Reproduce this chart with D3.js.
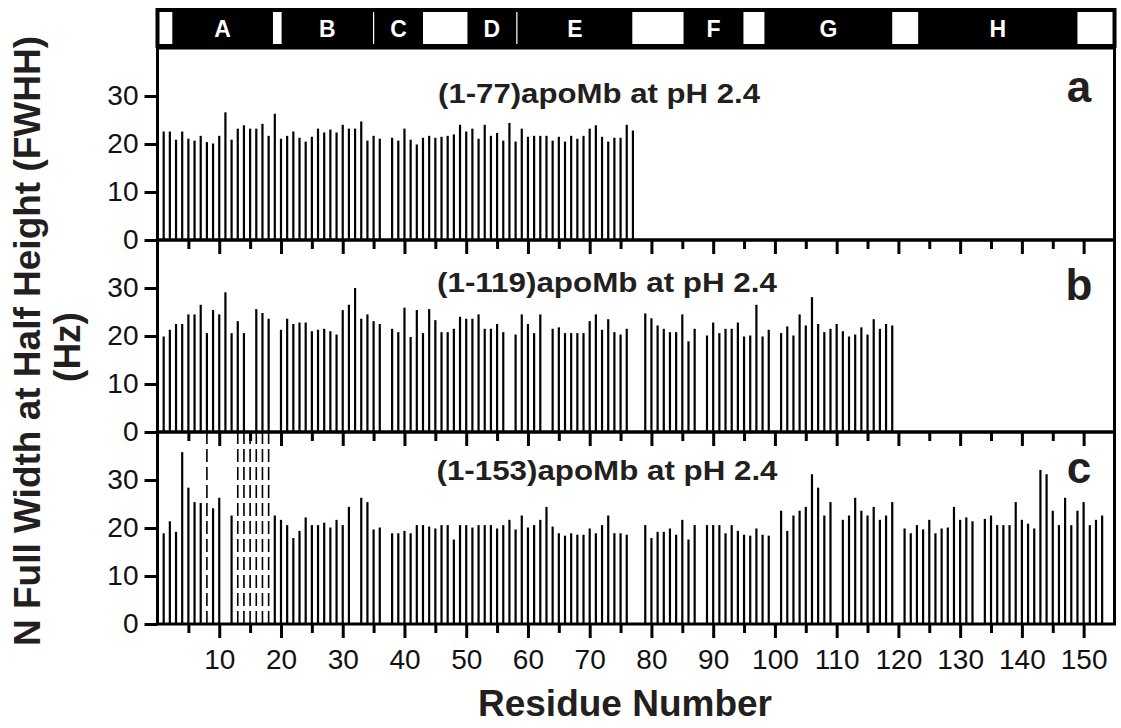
<!DOCTYPE html>
<html>
<head>
<meta charset="utf-8">
<title>apoMb FWHH</title>
<script src="https://d3js.org/d3.v7.min.js"></script>
<style>
body { margin: 0; background: #fff; font-family: "Liberation Sans", Arial, sans-serif; }
.tick line { stroke: #000; stroke-width: 3; }
.tick text { font-family: "Liberation Sans", Arial, sans-serif; fill: #111; }
</style>
</head>
<body>
<script>
// 15N linewidths (Hz), index = residue - 1, null = no peak
var fwhhA = [
  22.6, 22.6, 20.9, 22.6, 21.1, 20.7, 21.7, 20.4, 20.1, 21.7,
  26.6, 20.9, 23.2, 23.9, 23.2, 23.2, 24.2, 21.7, 26.3, 21.1,
  21.7, 22.6, 21.3, 20.5, 21.5, 23.2, 22.4, 23.0, 22.4, 24.0,
  23.2, 23.2, 24.7, 20.7, 21.7, 21.1, null, 21.3, 20.7, 23.2,
  20.9, 19.9, 21.3, 21.7, 21.3, 21.5, 21.7, 22.0, 24.0, 22.6,
  23.2, 21.1, 24.0, 21.7, 22.3, 20.7, 24.4, 20.5, 23.2, 21.5,
  21.7, 21.7, 21.7, 20.7, 21.5, 20.5, 21.7, 21.1, 21.7, 23.2,
  23.9, 21.5, 20.5, 21.3, 21.3, 24.0, 22.8
];
var fwhhB = [
  19.9, 21.3, 22.5, 22.5, 24.5, 24.5, 26.5, 20.6, 25.4, 24.5,
  29.1, 20.6, 23.1, 20.6, null, 25.6, 24.8, 23.6, null, 21.3,
  23.6, 22.5, 22.8, 22.8, 21.0, 21.3, 21.5, 21.0, 20.3, 25.4,
  26.5, 30.0, 23.6, 24.5, 23.1, 22.5, null, 21.5, 20.8, 25.9,
  19.8, 25.4, 20.6, 25.6, 23.3, 20.8, 20.8, 21.5, 24.0, 23.6,
  23.6, 24.5, 21.5, 21.5, 22.5, 20.8, null, 20.3, 24.5, 22.5,
  20.6, 24.5, null, 21.5, 21.8, 20.6, 20.6, 20.6, 20.6, 23.1,
  24.5, 21.3, 23.5, 20.8, 20.3, 21.5, null, null, 24.7, 23.7,
  22.2, 21.5, 20.8, 20.8, 24.5, 18.9, 21.5, null, 20.1, 22.8,
  20.6, 21.5, 21.5, 22.8, 19.9, 20.1, 26.5, 19.9, 21.3, null,
  20.6, 22.0, 20.1, 24.5, 22.2, 28.1, 22.5, 20.8, 21.5, 22.5,
  21.0, 19.9, 20.3, 21.8, 20.3, 23.5, 21.5, 22.5, 22.2
];
var fwhhC = [
  18.9, 21.4, 19.2, 35.8, 28.4, 25.4, 25.2, null, 24.1, 26.3,
  null, 22.6, null, null, null, null, null, null, 22.6, 21.7,
  20.6, 17.9, 19.4, 22.2, 20.6, 20.6, 21.1, 20.1, 21.7, 20.6,
  24.4, null, 26.3, 25.4, 19.7, 20.1, null, 18.9, 18.9, 19.4,
  18.9, 20.6, 20.6, 20.3, 19.9, 20.6, 20.6, 17.6, 20.6, 20.6,
  20.1, 20.6, 20.6, 20.6, 19.9, 20.6, 21.7, 19.7, 22.6, 20.1,
  20.6, 21.7, 24.4, 20.3, 18.9, 18.4, 18.9, 18.6, 18.6, 19.9,
  18.9, 20.6, 22.6, 18.9, 18.9, 18.6, null, null, 20.6, 17.9,
  19.2, 19.2, 19.9, 18.6, 21.7, 17.6, 20.6, null, 20.6, 20.6,
  20.6, 18.9, 20.6, 19.4, 18.6, 18.4, 19.9, 18.6, 18.4, null,
  23.6, 19.4, 22.6, 23.6, 24.4, 31.2, 28.4, 22.6, 25.4, null,
  21.7, 22.6, 26.3, 23.6, 22.6, 24.4, 21.7, 22.6, 25.4, null,
  19.9, 18.9, 20.6, 19.7, 21.7, 18.9, 19.9, 20.1, 24.4, 21.7,
  22.2, 21.4, null, 21.9, 22.6, 20.6, 20.6, 20.6, 25.4, 21.7,
  20.9, 19.9, 32.1, 31.2, 23.6, 20.6, 26.3, 20.6, 23.6, 25.4,
  20.6, 21.7, 22.6
];
// residues shown as dashed lines in panel c
var dashedC = [8, 13, 14, 15, 16, 17, 18];

var panelTitles = ["(1-77)apoMb at pH 2.4", "(1-119)apoMb at pH 2.4", "(1-153)apoMb at pH 2.4"];
var panelLetters = ["a", "b", "c"];

// helix segments (residue numbers)
var helixNames = ["A", "B", "C", "D", "E", "F", "G", "H"];
var helixStart = [2.4, 20.1, 35.1, 50.2, 58.3, 85.2, 98.3, 123.2];
var helixEnd   = [18.7, 34.9, 43.0, 58.1, 76.9, 94.9, 119.0, 149.0];

var yTicks = [0, 10, 20, 30];
var xMajor = [10, 20, 30, 40, 50, 60, 70, 80, 90, 100, 110, 120, 130, 140, 150];
var xMinor = [5, 15, 25, 35, 45, 55, 65, 75, 85, 95, 105, 115, 125, 135, 145];

var width = 1121, height = 728;
var left = 157.5, right = 1114.5;
var panelTop = [48, 240, 432];
var panelH = 192;
var titleY = [103, 292, 480];
var letterY = [102, 300, 483];
var titleW = [322, 340, 341];

var svg = d3.select("body").append("svg")
  .attr("width", width)
  .attr("height", height);

var x = d3.scaleLinear().domain([0, 155]).range([left, right]);

// helix bar on top
var hb = svg.append("g");
hb.append("rect")
  .attr("x", left).attr("y", 10)
  .attr("width", right - left).attr("height", 36)
  .attr("fill", "#fff").attr("stroke", "#000").attr("stroke-width", 4);
hb.selectAll("rect.helix")
  .data(helixNames)
  .enter().append("rect")
  .attr("class", "helix")
  .attr("x", function(d, i) { return x(helixStart[i]); })
  .attr("y", 8)
  .attr("width", function(d, i) { return x(helixEnd[i]) - x(helixStart[i]); })
  .attr("height", 40)
  .attr("fill", "#000");
hb.selectAll("text")
  .data(helixNames)
  .enter().append("text")
  .attr("x", function(d, i) { return x((helixStart[i] + helixEnd[i]) / 2); })
  .attr("y", 37)
  .attr("text-anchor", "middle")
  .attr("font-size", 23)
  .attr("font-weight", "bold")
  .attr("fill", "#fff")
  .text(function(d) { return d; });

var series = [fwhhA, fwhhB, fwhhC];

series.forEach(function(vals, p) {
  var top = panelTop[p];
  var y = d3.scaleLinear().domain([0, 40]).range([top + panelH, top]);
  var g = svg.append("g");

  // sticks
  var pts = vals.map(function(v, i) { return { r: i + 1, v: v }; })
    .filter(function(d) { return d.v !== null; });
  g.selectAll("line.bar")
    .data(pts)
    .enter().append("line")
    .attr("class", "bar")
    .attr("x1", function(d) { return x(d.r); })
    .attr("x2", function(d) { return x(d.r); })
    .attr("y1", y(0))
    .attr("y2", function(d) { return y(d.v); })
    .attr("stroke", "#000")
    .attr("stroke-width", 2.2);

  if (p === 2) {
    g.selectAll("line.dash")
      .data(dashedC)
      .enter().append("line")
      .attr("class", "dash")
      .attr("x1", function(d) { return x(d); })
      .attr("x2", function(d) { return x(d); })
      .attr("y1", y(0))
      .attr("y2", y(40))
      .attr("stroke", "#000")
      .attr("stroke-width", 1.6)
      .attr("stroke-dasharray", "13,5");
  }

  // y axis
  var ya = g.append("g")
    .attr("transform", "translate(" + left + ",0)")
    .call(d3.axisLeft(y).tickValues(yTicks).tickSize(13).tickPadding(6));
  ya.select(".domain").remove();
  ya.selectAll("text").attr("font-size", 28);

  // x axis
  var xa = g.append("g")
    .attr("transform", "translate(0," + (top + panelH) + ")")
    .call(d3.axisBottom(x).tickValues(xMajor).tickSize(14).tickPadding(11)
      .tickFormat(p === 2 ? d3.format("d") : function() { return ""; }));
  xa.select(".domain").remove();
  xa.selectAll("text").attr("font-size", 28);
  var xm = g.append("g")
    .attr("transform", "translate(0," + (top + panelH) + ")")
    .call(d3.axisBottom(x).tickValues(xMinor).tickSize(9).tickFormat(""));
  xm.select(".domain").remove();

  // frame
  g.append("rect")
    .attr("x", left).attr("y", top)
    .attr("width", right - left).attr("height", panelH)
    .attr("fill", "none").attr("stroke", "#000").attr("stroke-width", 3);

  g.append("text")
    .attr("x", 607 - (p === 0 ? 8 : 0))
    .attr("y", titleY[p])
    .attr("text-anchor", "middle")
    .attr("font-size", 27)
    .attr("font-weight", "bold")
    .attr("fill", "#231f20")
    .attr("textLength", titleW[p])
    .attr("lengthAdjust", "spacingAndGlyphs")
    .text(panelTitles[p]);

  g.append("text")
    .attr("x", 1079)
    .attr("y", letterY[p])
    .attr("text-anchor", "middle")
    .attr("font-size", 44)
    .attr("font-weight", "bold")
    .attr("fill", "#231f20")
    .text(panelLetters[p]);
});

// axis titles
svg.append("text")
  .attr("transform", "translate(40,341) rotate(-90)")
  .attr("text-anchor", "middle")
  .attr("font-size", 37)
  .attr("font-weight", "bold")
  .attr("fill", "#231f20")
  .text("N Full Width at Half Height (FWHH)");
svg.append("text")
  .attr("transform", "translate(80,347) rotate(-90)")
  .attr("text-anchor", "middle")
  .attr("font-size", 37)
  .attr("font-weight", "bold")
  .attr("fill", "#231f20")
  .text("(Hz)");
svg.append("text")
  .attr("x", 625)
  .attr("y", 716)
  .attr("text-anchor", "middle")
  .attr("font-size", 37)
  .attr("font-weight", "bold")
  .attr("fill", "#231f20")
  .text("Residue Number");
</script>
</body>
</html>
